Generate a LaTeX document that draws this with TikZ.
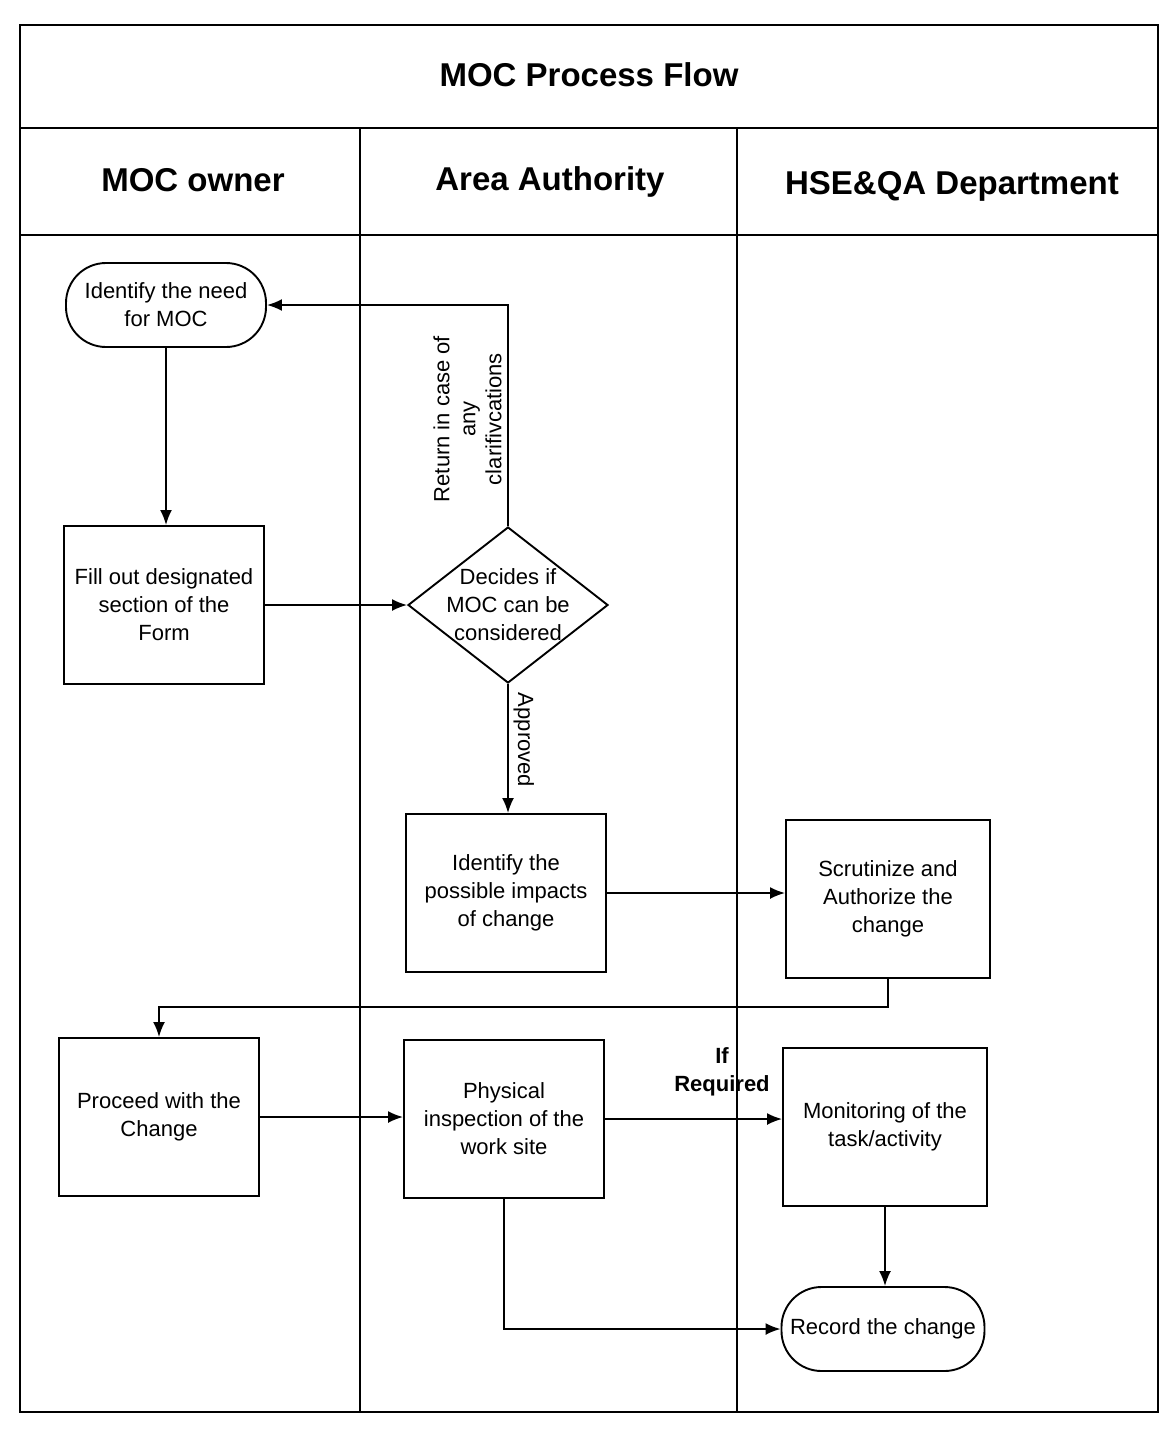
\documentclass[tikz,border=0pt]{standalone}
\usepackage{fontspec}
\setmainfont{Liberation Sans}
\usetikzlibrary{arrows.meta,shapes.geometric}

\begin{document}
\begin{tikzpicture}[x=1pt,y=-1pt,
  txt/.style={font=\fontsize{22}{28}\selectfont, align=center},
  head/.style={font=\fontsize{33}{40}\selectfont\bfseries},
  box/.style={txt, draw, line width=1.9pt, minimum width=200pt, minimum height=158pt, inner sep=2pt},
  term/.style={txt, draw, line width=1.9pt, rounded corners=40pt, minimum width=200pt, minimum height=84pt, inner sep=2pt},
  flow/.style={line width=1.9pt, -{Latex[length=15pt,width=12pt]}}]
\useasboundingbox (0,0) rectangle (1169,1436);
% swimlane frame
\draw[line width=1.9pt] (20,25) rectangle (1158,1412);
\draw[line width=1.9pt] (20,128) -- (1158,128);
\draw[line width=1.9pt] (20,235) -- (1158,235);
\draw[line width=1.5pt] (360,128) -- (360,1412);
\draw[line width=1.5pt] (737,128) -- (737,1412);
\node[head] (title) at (589,75) {MOC Process Flow};
\node[head] (owner) at (193,180) {MOC owner};
\node[head] (area) at (550,182) {Area Authority};
\node[head] (hse) at (952,186) {HSE\&QA Department};
% steps
\node[term] (need) at (166,305) {Identify the need\\for MOC};
\node[box] (fill) at (164,605) {Fill out designated\\section of the\\Form};
\node[diamond, draw, line width=1.9pt, minimum width=200pt, minimum height=156pt, inner sep=0pt] (dec) at (508,605) {};
\node[txt] (dectext) at (dec) {Decides if\\MOC can be\\considered};
\node[box] (imp) at (506,893) {Identify the\\possible impacts\\of change};
\node[box, minimum width=204pt] (scr) at (888,899) {Scrutinize and\\Authorize the\\change};
\node[box] (proc) at (159,1117) {Proceed with the\\Change};
\node[box] (phys) at (504,1119) {Physical\\inspection of the\\work site};
\node[box, minimum width=204pt] (mon) at (885,1127) {Monitoring of the\\task/activity};
\node[term, minimum width=203pt] (rec) at (883,1329) {Record the change};
% connectors
\draw[flow] (need.south) -- (need.south |- fill.north);
\draw[flow] (fill.east) -- (dec.west);
\draw[flow] (dec.north) |- (need.east);
\node[txt, rotate=90, anchor=south, font=\fontsize{22}{26}\selectfont] (retlbl) at ([xshift=-3pt,yshift=107pt]dec.north) {Return in case of\\any\\clarifivcations};
\draw[flow] (dec.south) -- (dec.south |- imp.north);
\node[txt, rotate=-90, anchor=south] (applbl) at ([xshift=2pt,yshift=-56pt]dec.south) {Approved};
\draw[flow] (imp.east) -- (imp.east -| scr.west);
\draw[flow] (scr.south) -- ++(0,28) -| (proc.north);
\draw[flow] (proc.east) -- (proc.east -| phys.west);
\draw[flow] (phys.east) -- (phys.east -| mon.west);
\node[txt, font=\fontsize{22}{28}\selectfont\bfseries] (ifreq) at (722,1072) {If\\Required};
\draw[flow] (mon.south) -- (mon.south |- rec.north);
\draw[flow] (phys.south) |- (rec.west);
\end{tikzpicture}
\end{document}
